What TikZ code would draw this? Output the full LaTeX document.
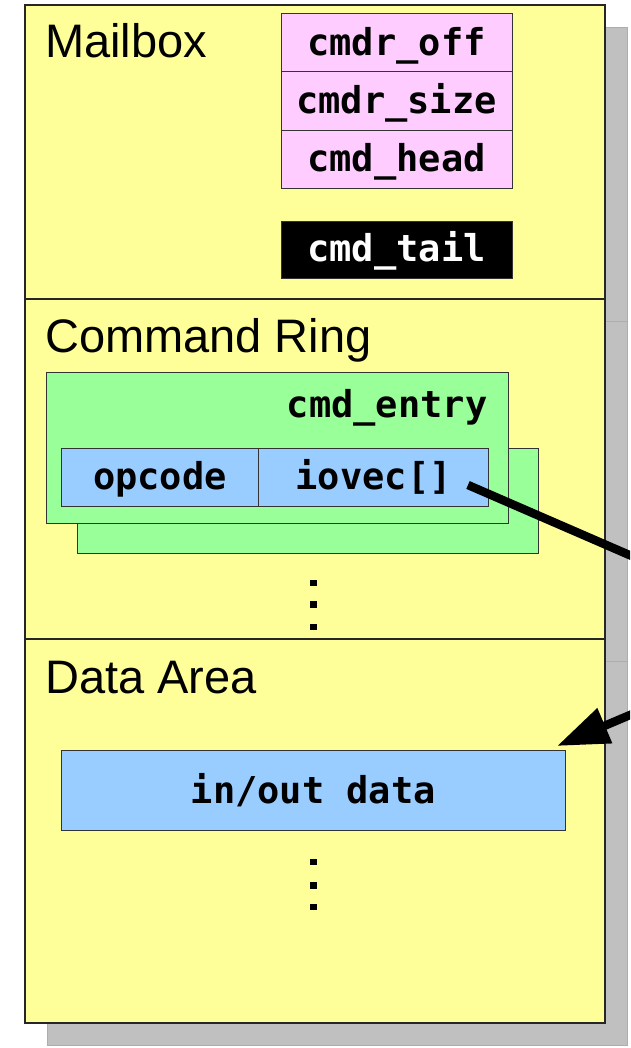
\documentclass[tikz,border=0pt]{standalone}
\usepackage{fontspec}
\setmainfont{Liberation Sans}
\newfontfamily\codefont{DejaVu Sans Mono}
\usetikzlibrary{arrows.meta}

\definecolor{paneyellow}{HTML}{FFFF99}
\definecolor{regpink}{HTML}{FFCCFF}
\definecolor{entrygreen}{HTML}{99FF99}
\definecolor{fieldblue}{HTML}{99CCFF}
\definecolor{shadowgray}{HTML}{C0C0C0}
\definecolor{shadowline}{HTML}{ADADAD}

\begin{document}
\begin{tikzpicture}[x=1pt,y=-1pt,
  section/.style={draw=black!85, line width=1.1pt, fill=paneyellow,
    minimum width=580pt, inner sep=0pt},
  shadowbox/.style={fill=shadowgray, draw=shadowline, line width=0.8pt},
  title/.style={anchor=base west, inner sep=0pt,
    font=\fontsize{47}{50}\selectfont},
  codetext/.style={font=\codefont\bfseries\fontsize{37}{40}\selectfont},
  field/.style={codetext, draw=black!80, line width=0.9pt, inner sep=0pt,
    text height=30pt, text depth=5pt},
  register/.style={field, fill=regpink, minimum width=231pt, minimum height=58.3pt},
  entrybox/.style={draw=black!80, line width=0.9pt, fill=entrygreen, inner sep=0pt},
  vdot/.style={fill=black},
  pointer/.style={line width=8.5pt, -{Triangle[length=52pt,width=36pt]}}
]
\useasboundingbox (0,0) rectangle (630,1048);
\clip (0,0) rectangle (630,1048);
\fill[white] (0,0) rectangle (630,1048);

% drop shadows of the three memory regions
\draw[shadowbox] (47,27) rectangle (627,321);
\draw[shadowbox] (47,321) rectangle (627,661);
\draw[shadowbox] (47,661) rectangle (627,1045);

% memory regions
\node[section, minimum height=294pt] (mailbox) at (315,152) {};
\node[section, minimum height=340pt] (ring) at (315,469) {};
\node[section, minimum height=384pt] (area) at (315,831) {};

\node[title] (mailboxtitle) at (45,58) {Mailbox};
\node[title] (ringtitle) at (45,352) {Command Ring};
\node[title] (areatitle) at (45,693) {Data Area};

% mailbox registers
\node[register] (cmdroff) at (396.5,42.6) {cmdr\_off};
\node[register] (cmdrsize) at (396.5,100.9) {cmdr\_size};
\node[register] (cmdhead) at (396.5,159.2) {cmd\_head};
\node[field, fill=black, text=white, minimum width=231pt, minimum height=57pt]
  (cmdtail) at (396.5,249.5) {cmd\_tail};

% command ring entries
\node[entrybox, minimum width=461pt, minimum height=105pt] (entryback) at (307.5,500.5) {};
\node[entrybox, minimum width=462pt, minimum height=151pt] (entry) at (277,447.5) {};
\node[codetext, anchor=base east, inner sep=0pt] (entrylabel) at (487.5,417) {cmd\_entry};
\node[field, fill=fieldblue, minimum width=197pt, minimum height=58pt] (opcode) at (160,477) {opcode};
\node[field, fill=fieldblue, minimum width=230pt, minimum height=58pt] (iovec) at (373.6,477) {iovec[]};

\fill[vdot] (309.5,579.5) rectangle (316.5,586);
\fill[vdot] (309.5,601) rectangle (316.5,607.5);
\fill[vdot] (309.5,623.5) rectangle (316.5,630);

% data area
\node[field, fill=fieldblue, minimum width=503.5pt, minimum height=80pt] (data) at (313.3,790.7) {in/out data};

\fill[vdot] (309.5,858.5) rectangle (316.5,865);
\fill[vdot] (309.5,882) rectangle (316.5,888.5);
\fill[vdot] (309.5,903.5) rectangle (316.5,910);

% iovec pointer into the data area
\coordinate (ptr) at (468,485);
\coordinate (bend) at (816,636);
\coordinate (target) at (557,746);
\draw[pointer] (ptr) -- (bend) -- (target);
\end{tikzpicture}
\end{document}
